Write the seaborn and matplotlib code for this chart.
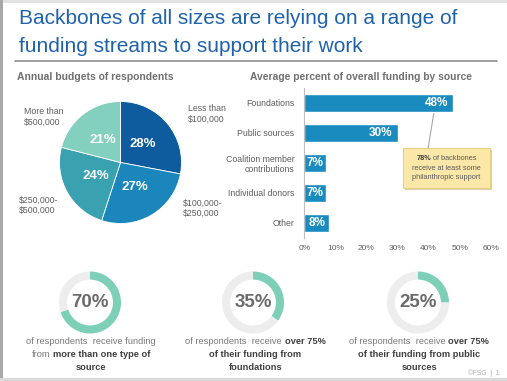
import matplotlib
matplotlib.use("Agg")
import matplotlib.pyplot as plt
from matplotlib.patches import Rectangle
import seaborn as sns
import pandas as pd

# data
budget_labels = ["Less than\n$100,000", "$100,000-\n$250,000", "$250,000-\n$500,000", "More than\n$500,000"]
budget_shares = [28, 27, 24, 21]
budget_colors = ["#0e5c9e", "#1a86bb", "#3aa1b1", "#82d0bd"]

sources = ["Foundations", "Public sources", "Coalition member\ncontributions", "Individual donors", "Other"]
source_pct = [48, 30, 7, 7, 8]
x_ticks = [0, 10, 20, 30, 40, 50, 60]

donut_pct = [70, 35, 25]
donut_captions = [
    [[("of respondents  receive funding", False)],
     [("from", False), ("more than one type of", True)],
     [("source", True)]],
    [[("of respondents  receive", False), ("over 75%", True)],
     [("of their funding from", True)],
     [("foundations", True)]],
    [[("of respondents  receive", False), ("over 75%", True)],
     [("of their funding from public", True)],
     [("sources", True)]],
]

W, H = 507, 381
sns.set_theme(style="white")
plt.rcParams["font.family"] = ["Liberation Sans", "DejaVu Sans"]

fig = plt.figure(figsize=(W / 100, H / 100), dpi=100)
fig.patch.set_facecolor("white")

# overlay axes in pixel units (y down)
ov = fig.add_axes([0, 0, 1, 1], zorder=0)
ov.set_xlim(0, W)
ov.set_ylim(H, 0)
ov.axis("off")


def fig_rect(x0, y0, w, h):
    return [x0 / W, 1 - (y0 + h) / H, w / W, h / H]


# slide frame
ov.add_patch(Rectangle((0, 0), W, 3, color="#e3e3e3", lw=0))
ov.add_patch(Rectangle((0, 0), 3, H, color="#a8a8a8", lw=0))
ov.add_patch(Rectangle((0, H - 3), W, 3, color="#d9d9d9", lw=0))

# title
ov.text(19, 19, "Backbones of all sizes are relying on a range of", fontsize=15,
        color="#1f62ac", va="center", ha="left")
ov.text(19, 46, "funding streams to support their work", fontsize=15,
        color="#1f62ac", va="center", ha="left")
ov.plot([15, 497], [61, 61], color="#9a9a9a", lw=1.3)

ov.text(17, 77, "Annual budgets of respondents", fontsize=7.5, fontweight="bold",
        color="#707070", va="center")
ov.text(250, 77, "Average percent of overall funding by source", fontsize=7.4,
        fontweight="bold", color="#707070", va="center")

# pie
cx, cy, r = 120.5, 162.5, 61
ax_pie = fig.add_axes(fig_rect(cx - r, cy - r, 2 * r, 2 * r))
wedges, _, autotexts = ax_pie.pie(budget_shares, colors=budget_colors, startangle=90,
                                  counterclock=False, autopct="%d%%", pctdistance=0.47,
                                  wedgeprops=dict(edgecolor="white", linewidth=0.6))
for t in autotexts:
    t.set_color("white")
    t.set_fontsize(9.5)
    t.set_fontweight("bold")
ax_pie.set_xlim(-1, 1)
ax_pie.set_ylim(-1, 1)

label_pos = [(188, 114), (183, 208), (19, 205), (24, 117)]
for (lx, ly), lab in zip(label_pos, budget_labels):
    ov.text(lx, ly, lab, fontsize=6.3, color="#5f5f5f", va="center", ha="left",
            linespacing=1.15)

# bar chart
x0_px, x1_px = 304.3, 490.7
ax_bar = fig.add_axes(fig_rect(x0_px, 88, x1_px - x0_px, 150))
df = pd.DataFrame({"source": sources, "pct": source_pct})
sns.barplot(data=df, x="pct", y="source", orient="h", color="#1a8bbf", saturation=1,
            width=0.57, ax=ax_bar)
ax_bar.set_xlim(0, 60)
ax_bar.set_ylim(4.5, -0.5)
ax_bar.set_xlabel("")
ax_bar.set_ylabel("")
ax_bar.set_xticks(x_ticks)
ax_bar.set_xticklabels([f"{v}%" for v in x_ticks])
ax_bar.tick_params(axis="x", length=0, labelsize=6, labelcolor="#5f5f5f", pad=5)
ax_bar.tick_params(axis="y", length=0, labelsize=6.3, labelcolor="#5f5f5f", pad=7)
for lab in ax_bar.get_yticklabels():
    lab.set_linespacing(1.1)
ax_bar.set_yticks([-0.5, 0.5, 1.5, 2.5, 3.5, 4.5], minor=True)
ax_bar.tick_params(axis="y", which="minor", length=3, color="#bfbfbf", width=0.8)
for s in ["top", "right", "bottom"]:
    ax_bar.spines[s].set_visible(False)
ax_bar.spines["left"].set_color("#bfbfbf")
ax_bar.spines["left"].set_linewidth(0.8)
ax_bar.set_facecolor("none")
px_per_unit = (x1_px - x0_px) / 60
for i, v in enumerate(source_pct):
    if v > 15:
        ax_bar.text(v - 5 / px_per_unit, i, f"{v}%", color="white", fontsize=8.5,
                    fontweight="bold", ha="right", va="center")
    else:
        ax_bar.text(v / 2, i, f"{v}%", color="white", fontsize=8.5,
                    fontweight="bold", ha="center", va="center")

renderer = fig.canvas.get_renderer()


def runs_line(x, y, runs, size, normal_color, bold_color, zorder=5):
    gap = 0.28 * size * 100 / 72
    items = []
    for s, bold in runs:
        t = ov.text(0, y, s, fontsize=size, fontweight="bold" if bold else "normal",
                    color=bold_color if bold else normal_color, va="center", ha="left",
                    zorder=zorder)
        items.append((t, t.get_window_extent(renderer).width))
    total = sum(w for _, w in items) + gap * (len(items) - 1)
    start = x - total / 2
    for t, w in items:
        t.set_x(start)
        start += w + gap


# callout
ov.plot([428, 434], [149, 112], color="#a6a6a6", lw=0.8, zorder=3)
ov.add_patch(Rectangle((405, 150), 87, 40, color="#d9d2b8", lw=0, zorder=3))
ov.add_patch(Rectangle((403, 148), 87, 40, facecolor="#fbe8a8", edgecolor="#e6cf7e",
                       lw=0.7, zorder=4))
runs_line(446.5, 158.5, [("78%", True), ("of backbones", False)], 5.3, "#5a5a5a", "#3f3f3f")
runs_line(446.5, 168, [("receive at least some", False)], 5.3, "#5a5a5a", "#3f3f3f")
runs_line(446.5, 177.5, [("philanthropic support", False)], 5.3, "#5a5a5a", "#3f3f3f")

# donuts
centers = [90, 253, 418]
cap_centers = [90.8, 255.5, 419]
dr, dcy = 31, 302.5
for cxd, ccx, pct, cap in zip(centers, cap_centers, donut_pct, donut_captions):
    ax_d = fig.add_axes(fig_rect(cxd - dr, dcy - dr, 2 * dr, 2 * dr))
    ax_d.pie([pct, 100 - pct], colors=["#7dcfb7", "#ededed"], startangle=90,
             counterclock=False, wedgeprops=dict(width=0.26, linewidth=0))
    ax_d.set_xlim(-1, 1)
    ax_d.set_ylim(-1, 1)
    ax_d.text(0, 0, f"{pct}%", fontsize=13.5, fontweight="bold", color="#6b6b6b",
              ha="center", va="center")
    for k, line in enumerate(cap):
        runs_line(ccx, 342 + k * 12.5, line, 6.7, "#7a7a7a", "#404040")

ov.text(500, 373.5, "\u00a9FSG  |  1", fontsize=4.8, color="#ababab", ha="right", va="center")

fig.savefig("out.png", dpi=100)
